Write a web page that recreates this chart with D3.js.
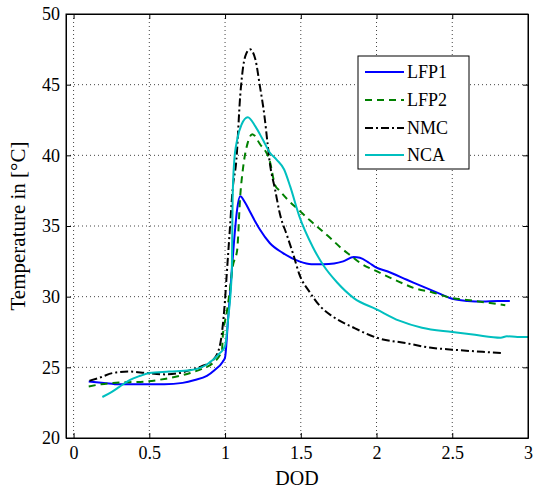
<!DOCTYPE html>
<html><head><meta charset="utf-8">
<script src="https://cdn.jsdelivr.net/npm/d3@7"></script>
<style>body{margin:0;background:#fff}svg text{font-family:"Liberation Serif","Times New Roman",serif}</style>
</head><body><svg id="c" width="533" height="492"></svg>
<script>
const seriesNames = ["LFP1","LFP2","NMC","NCA"];
const seriesColors = ["#0000ff","#008000","#000000","#00bfbf"];
const xTicks = [0,0.5,1,1.5,2,2.5,3];
const yTicks = [20,25,30,35,40,45,50];

const lfp1X = [0.10,0.20,0.30,0.45,0.60,0.72,0.80,0.88,0.93,0.985,1.00,1.02,1.04,1.06,1.08,1.10,1.13,1.163,1.20,1.23,1.295,1.38,1.49,1.57,1.65,1.72,1.78,1.85,1.89,1.95,2.00,2.07,2.20,2.33,2.42,2.50,2.60,2.70,2.80,2.88];
const lfp1Y = [24.0,23.9,23.8,23.8,23.8,23.9,24.1,24.4,24.8,25.4,25.7,28.4,31.2,34.0,36.2,37.1,36.7,36.05,35.3,34.75,33.8,33.1,32.5,32.3,32.3,32.35,32.5,32.8,32.75,32.4,32.05,31.8,31.2,30.6,30.2,29.85,29.7,29.65,29.7,29.7];

const lfp2X = [0.10,0.18,0.26,0.37,0.48,0.61,0.70,0.77,0.85,0.92,0.98,0.985,1.01,1.03,1.05,1.08,1.10,1.12,1.15,1.18,1.23,1.295,1.33,1.36,1.41,1.49,1.56,1.63,1.70,1.76,1.83,1.89,2.00,2.15,2.25,2.37,2.50,2.65,2.75,2.85];
const lfp2Y = [23.65,23.8,23.9,23.95,24.0,24.2,24.4,24.6,24.9,25.3,26.2,27.2,28.8,30.3,32.1,33.3,37.1,39.2,40.9,41.5,40.8,39.6,37.9,37.5,36.9,36.1,35.4,34.75,34.1,33.5,32.9,32.4,31.8,31.05,30.6,30.3,29.9,29.7,29.55,29.4];

const nmcX = [0.105,0.18,0.26,0.37,0.48,0.61,0.70,0.77,0.85,0.92,0.965,1.00,1.01,1.03,1.05,1.075,1.10,1.12,1.14,1.165,1.20,1.23,1.26,1.28,1.295,1.33,1.36,1.41,1.45,1.49,1.56,1.63,1.71,1.85,2.00,2.20,2.35,2.50,2.70,2.84];
const nmcY = [24.05,24.3,24.6,24.7,24.6,24.5,24.6,24.8,25.1,25.5,26.5,29.8,31.4,34.5,37.6,39.7,44.2,46.3,47.2,47.5,46.8,44.9,42.8,40.9,39.5,37.6,35.95,34.3,33.0,31.6,30.3,29.3,28.6,27.8,27.1,26.7,26.4,26.25,26.1,26.0];

const ncaX = [0.19,0.25,0.30,0.37,0.44,0.50,0.63,0.77,0.88,0.965,1.00,1.02,1.045,1.05,1.06,1.08,1.11,1.15,1.20,1.25,1.295,1.34,1.39,1.43,1.49,1.58,1.65,1.74,1.85,2.00,2.15,2.30,2.50,2.65,2.82,2.86,2.93,3.00];
const ncaY = [22.9,23.25,23.6,24.1,24.4,24.6,24.7,24.8,25.2,26.0,26.5,28.4,31.9,36.9,39.5,41.1,42.2,42.7,42.05,41.1,40.2,39.7,39.0,37.8,35.7,33.5,32.2,31.0,29.9,29.1,28.3,27.8,27.5,27.3,27.1,27.2,27.15,27.15];

const seriesX = [lfp1X,lfp2X,nmcX,ncaX];
const seriesY = [lfp1Y,lfp2Y,nmcY,ncaY];
const dashes = [null,"7,5","8,3,2,3",null];

const L=66,R=528,T=14,B=438;
const svg = d3.select("#c");
const x = d3.scaleLinear().domain([-0.05,3]).range([L,R]);
const y = d3.scaleLinear().domain([20,50]).range([B,T]);

// grid
const g = svg.append("g");
g.selectAll("line.vx").data(xTicks.filter(d=>d<3)).join("line")
 .attr("x1",d=>x(d)).attr("x2",d=>x(d)).attr("y1",T).attr("y2",B)
 .attr("stroke","#444").attr("stroke-width",1).attr("stroke-dasharray","1,3");
g.selectAll("line.hy").data(yTicks.filter(d=>d>20&&d<50)).join("line")
 .attr("x1",L).attr("x2",R).attr("y1",d=>y(d)).attr("y2",d=>y(d))
 .attr("stroke","#444").attr("stroke-width",1).attr("stroke-dasharray","1,3");

// axes
const fmt = d=>String(d);
svg.append("g").attr("transform",`translate(0,${B})`)
 .call(d3.axisBottom(x).tickValues(xTicks).tickFormat(fmt).tickSizeInner(-5).tickSizeOuter(0).tickPadding(8));
svg.append("g").attr("transform",`translate(${L},0)`)
 .call(d3.axisLeft(y).tickValues(yTicks).tickFormat(fmt).tickSizeInner(-5).tickSizeOuter(0).tickPadding(6));
svg.append("g").attr("transform",`translate(0,${T})`)
 .call(d3.axisTop(x).tickValues(xTicks).tickFormat("").tickSizeInner(-5).tickSizeOuter(0));
svg.append("g").attr("transform",`translate(${R},0)`)
 .call(d3.axisRight(y).tickValues(yTicks).tickFormat("").tickSizeInner(-5).tickSizeOuter(0));
svg.selectAll(".domain").attr("stroke","#000");
svg.selectAll(".tick line").attr("stroke","#000");
svg.selectAll(".tick text").attr("font-size",18).attr("fill","#000").attr("font-family","Liberation Serif");

// lines
const line = d3.line().x(d=>x(d[0])).y(d=>y(d[1])).curve(d3.curveMonotoneX);
svg.append("clipPath").attr("id","cp").append("rect").attr("x",L).attr("y",T).attr("width",R-L).attr("height",B-T);
seriesNames.forEach((n,i)=>{
  const pts = seriesX[i].map((v,j)=>[v,seriesY[i][j]]);
  svg.append("path").attr("d",line(pts)).attr("fill","none")
   .attr("stroke",seriesColors[i]).attr("stroke-width",2)
   .attr("stroke-dasharray",dashes[i]).attr("clip-path","url(#cp)");
});

// frame
svg.append("rect").attr("x",L).attr("y",T).attr("width",R-L).attr("height",B-T)
 .attr("fill","none").attr("stroke","#000").attr("stroke-width",1);

// legend
const lg = svg.append("g");
lg.append("rect").attr("x",358).attr("y",56).attr("width",111).attr("height",113)
 .attr("fill","#fff").attr("stroke","#000").attr("stroke-width",1);
const ly = [72,100,128,155];
seriesNames.forEach((n,i)=>{
  lg.append("line").attr("x1",365).attr("x2",404).attr("y1",ly[i]).attr("y2",ly[i])
   .attr("stroke",seriesColors[i]).attr("stroke-width",2).attr("stroke-dasharray",dashes[i]);
  lg.append("text").attr("x",407).attr("y",ly[i]+6).attr("font-size",18).text(n);
});

// labels
svg.append("text").attr("x",(L+R)/2).attr("y",485).attr("text-anchor","middle").attr("font-size",20).text("DOD");
svg.append("text").attr("transform",`translate(25,${(T+B)/2}) rotate(-90)`).attr("text-anchor","middle").attr("font-size",21).text("Temperature in [°C]");
</script></body></html>
